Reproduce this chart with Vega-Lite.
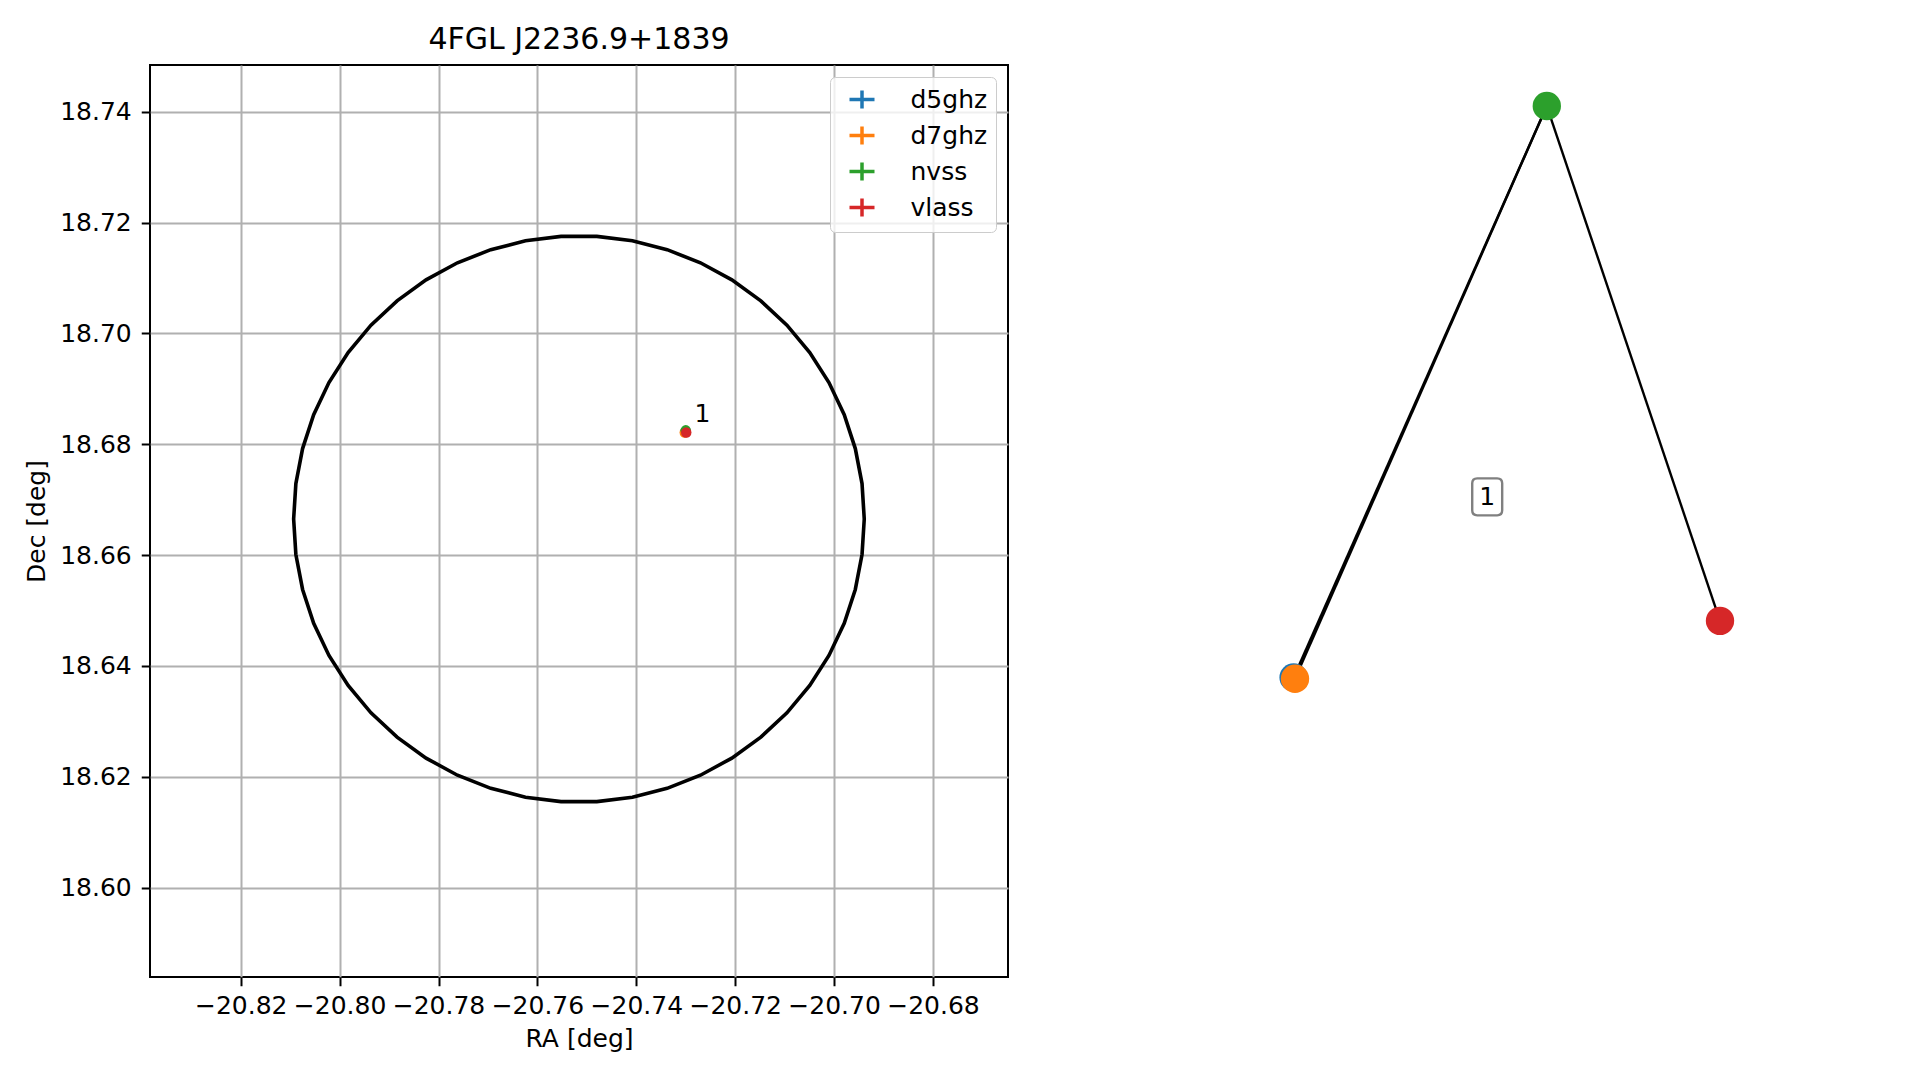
{
  "$schema": "https://vega.github.io/schema/vega-lite/v6.json",
  "padding": {"left": 23, "top": 24, "right": 5, "bottom": 5},
  "background": "white",
  "spacing": 91,
  "config": {
    "font": "DejaVu Sans",
    "legend": {"labelFont": "DejaVu Sans"}
  },
  "resolve": {"scale": {"color": "independent"}, "legend": {"color": "independent"}},
  "hconcat": [
    {
      "width": 858,
      "height": 912,
      "title": {"text": "4FGL J2236.9+1839", "fontSize": 30, "font": "DejaVu Sans", "fontWeight": "normal", "color": "black", "offset": 10},
      "view": {"stroke": "black", "strokeWidth": 2},
      "layer": [
        {
          "data": {"values": [
            {"k": 0, "ra": -20.6939, "dec": 18.6665},
            {"k": 1, "ra": -20.69435, "dec": 18.6729},
            {"k": 2, "ra": -20.69571, "dec": 18.67921},
            {"k": 3, "ra": -20.69795, "dec": 18.68531},
            {"k": 4, "ra": -20.70104, "dec": 18.69112},
            {"k": 5, "ra": -20.70492, "dec": 18.69654},
            {"k": 6, "ra": -20.70954, "dec": 18.70148},
            {"k": 7, "ra": -20.71482, "dec": 18.70587},
            {"k": 8, "ra": -20.72068, "dec": 18.70965},
            {"k": 9, "ra": -20.72703, "dec": 18.71274},
            {"k": 10, "ra": -20.73377, "dec": 18.7151},
            {"k": 11, "ra": -20.74079, "dec": 18.7167},
            {"k": 12, "ra": -20.74798, "dec": 18.7175},
            {"k": 13, "ra": -20.75522, "dec": 18.7175},
            {"k": 14, "ra": -20.76241, "dec": 18.7167},
            {"k": 15, "ra": -20.76943, "dec": 18.7151},
            {"k": 16, "ra": -20.77617, "dec": 18.71274},
            {"k": 17, "ra": -20.78252, "dec": 18.70965},
            {"k": 18, "ra": -20.78838, "dec": 18.70587},
            {"k": 19, "ra": -20.79366, "dec": 18.70148},
            {"k": 20, "ra": -20.79828, "dec": 18.69654},
            {"k": 21, "ra": -20.80216, "dec": 18.69112},
            {"k": 22, "ra": -20.80525, "dec": 18.68531},
            {"k": 23, "ra": -20.80749, "dec": 18.67921},
            {"k": 24, "ra": -20.80885, "dec": 18.6729},
            {"k": 25, "ra": -20.8093, "dec": 18.6665},
            {"k": 26, "ra": -20.80885, "dec": 18.6601},
            {"k": 27, "ra": -20.80749, "dec": 18.65379},
            {"k": 28, "ra": -20.80525, "dec": 18.64769},
            {"k": 29, "ra": -20.80216, "dec": 18.64188},
            {"k": 30, "ra": -20.79828, "dec": 18.63646},
            {"k": 31, "ra": -20.79366, "dec": 18.63152},
            {"k": 32, "ra": -20.78838, "dec": 18.62713},
            {"k": 33, "ra": -20.78252, "dec": 18.62335},
            {"k": 34, "ra": -20.77617, "dec": 18.62026},
            {"k": 35, "ra": -20.76943, "dec": 18.6179},
            {"k": 36, "ra": -20.76241, "dec": 18.6163},
            {"k": 37, "ra": -20.75522, "dec": 18.6155},
            {"k": 38, "ra": -20.74798, "dec": 18.6155},
            {"k": 39, "ra": -20.74079, "dec": 18.6163},
            {"k": 40, "ra": -20.73377, "dec": 18.6179},
            {"k": 41, "ra": -20.72703, "dec": 18.62026},
            {"k": 42, "ra": -20.72068, "dec": 18.62335},
            {"k": 43, "ra": -20.71482, "dec": 18.62713},
            {"k": 44, "ra": -20.70954, "dec": 18.63152},
            {"k": 45, "ra": -20.70492, "dec": 18.63646},
            {"k": 46, "ra": -20.70104, "dec": 18.64188},
            {"k": 47, "ra": -20.69795, "dec": 18.64769},
            {"k": 48, "ra": -20.69571, "dec": 18.65379},
            {"k": 49, "ra": -20.69435, "dec": 18.6601},
            {"k": 50, "ra": -20.6939, "dec": 18.6665}
          ]},
          "mark": {"type": "line", "color": "black", "strokeWidth": 3.6, "clip": true},
          "encoding": {
            "x": {"field": "ra", "type": "quantitative",
              "scale": {"domain": [-20.83835, -20.66483], "nice": false, "zero": false},
              "axis": {
                "title": "RA [deg]",
                "values": [-20.82, -20.80, -20.78, -20.76, -20.74, -20.72, -20.70, -20.68],
                "format": ".2f",
                "grid": true, "gridColor": "#b0b0b0", "gridWidth": 2,
                "domain": false,
                "tickColor": "black", "tickWidth": 2, "tickSize": 8.75,
                "labelPadding": 8, "labelFontSize": 25, "labelFont": "DejaVu Sans", "labelColor": "black",
                "labelFlush": false, "labelOverlap": false,
                "titleFontSize": 25, "titleFont": "DejaVu Sans", "titleFontWeight": "normal", "titleColor": "black", "titlePadding": 8
              }
            },
            "y": {"field": "dec", "type": "quantitative",
              "scale": {"domain": [18.58385, 18.74843], "nice": false, "zero": false},
              "axis": {
                "title": "Dec [deg]",
                "values": [18.60, 18.62, 18.64, 18.66, 18.68, 18.70, 18.72, 18.74],
                "format": ".2f",
                "grid": true, "gridColor": "#b0b0b0", "gridWidth": 2,
                "domain": false,
                "tickColor": "black", "tickWidth": 2, "tickSize": 8.75,
                "labelPadding": 10, "labelFontSize": 25, "labelFont": "DejaVu Sans", "labelColor": "black",
                "labelFlush": false, "labelOverlap": false,
                "minExtent": 91, "maxExtent": 91,
                "titleFontSize": 25, "titleFont": "DejaVu Sans", "titleFontWeight": "normal", "titleColor": "black", "titlePadding": 9.7
              }
            },
            "order": {"field": "k", "type": "quantitative"}
          }
        },
        {
          "data": {"name": "sources", "values": [
            {"survey": "d5ghz", "ra": -20.7301, "dec": 18.6822, "ra_lo": -20.7302, "ra_hi": -20.7300, "dec_lo": 18.6821, "dec_hi": 18.6823},
            {"survey": "d7ghz", "ra": -20.7302, "dec": 18.6821, "ra_lo": -20.7303, "ra_hi": -20.7301, "dec_lo": 18.6820, "dec_hi": 18.6822},
            {"survey": "nvss", "ra": -20.73, "dec": 18.6825, "ra_lo": -20.7302, "ra_hi": -20.7298, "dec_lo": 18.6823, "dec_hi": 18.6827},
            {"survey": "vlass", "ra": -20.7299, "dec": 18.6821, "ra_lo": -20.72995, "ra_hi": -20.72985, "dec_lo": 18.68205, "dec_hi": 18.68215}
          ]},
          "layer": [
            {
              "mark": {"type": "rule", "strokeWidth": 3.5},
              "encoding": {
                "x": {"field": "ra_lo", "type": "quantitative"},
                "x2": {"field": "ra_hi"},
                "y": {"field": "dec", "type": "quantitative"},
                "color": {"field": "survey", "type": "nominal",
                  "scale": {"domain": ["d5ghz", "d7ghz", "nvss", "vlass"], "range": ["#1f77b4", "#ff7f0e", "#2ca02c", "#d62728"]},
                  "legend": {
                    "title": null, "orient": "top-right", "offset": 12,
                    "symbolType": "M-1,0L1,0M0,-0.72L0,0.72",
                    "symbolSize": 625, "symbolStrokeWidth": 3.5, "symbolOffset": 9.5,
                    "labelFontSize": 25, "labelFont": "DejaVu Sans", "labelColor": "black", "labelOffset": 34,
                    "rowPadding": 3, "padding": 8,
                    "strokeColor": "#cccccc", "fillColor": "rgba(255,255,255,0.8)", "cornerRadius": 5
                  }
                }
              }
            },
            {
              "mark": {"type": "rule", "strokeWidth": 3.5},
              "encoding": {
                "x": {"field": "ra", "type": "quantitative"},
                "y": {"field": "dec_lo", "type": "quantitative"},
                "y2": {"field": "dec_hi"},
                "color": {"field": "survey", "type": "nominal", "legend": null}
              }
            },
            {
              "mark": {"type": "point", "filled": true, "opacity": 1, "size": 110},
              "encoding": {
                "x": {"field": "ra", "type": "quantitative"},
                "y": {"field": "dec", "type": "quantitative"},
                "color": {"field": "survey", "type": "nominal", "legend": null}
              }
            }
          ]
        },
        {
          "data": {"values": [{"ra": -20.7266, "dec": 18.6855, "label": "1"}]},
          "mark": {"type": "text", "fontSize": 25, "font": "DejaVu Sans", "color": "black", "align": "center", "baseline": "middle"},
          "encoding": {
            "x": {"field": "ra", "type": "quantitative"},
            "y": {"field": "dec", "type": "quantitative"},
            "text": {"field": "label"}
          }
        }
      ]
    },
    {
      "width": 800,
      "height": 912,
      "view": {"stroke": null},
      "layer": [
        {
          "data": {"values": [
            {"from": "nvss", "to": "d5ghz", "x": 0.117, "y": 0.910, "x2": -0.516, "y2": -0.343},
            {"from": "nvss", "to": "d7ghz", "x": 0.117, "y": 0.910, "x2": -0.5125, "y2": -0.346},
            {"from": "nvss", "to": "vlass", "x": 0.117, "y": 0.910, "x2": 0.55, "y2": -0.219}
          ]},
          "mark": {"type": "rule", "color": "black", "strokeWidth": 2.4},
          "encoding": {
            "x": {"field": "x", "type": "quantitative", "scale": {"domain": [-1, 1], "nice": false, "zero": false}, "axis": null},
            "y": {"field": "y", "type": "quantitative", "scale": {"domain": [-1, 1], "nice": false, "zero": false}, "axis": null},
            "x2": {"field": "x2"},
            "y2": {"field": "y2"}
          }
        },
        {
          "data": {"values": [
            {"node": "d5ghz", "x": -0.516, "y": -0.343},
            {"node": "d7ghz", "x": -0.5125, "y": -0.346},
            {"node": "nvss", "x": 0.117, "y": 0.910},
            {"node": "vlass", "x": 0.55, "y": -0.219}
          ]},
          "mark": {"type": "point", "filled": true, "opacity": 1, "size": 804},
          "encoding": {
            "x": {"field": "x", "type": "quantitative"},
            "y": {"field": "y", "type": "quantitative"},
            "color": {"field": "node", "type": "nominal",
              "scale": {"domain": ["d5ghz", "d7ghz", "nvss", "vlass"], "range": ["#1f77b4", "#ff7f0e", "#2ca02c", "#d62728"]},
              "legend": null}
          }
        },
        {
          "data": {"values": [{"x": -0.032, "y": 0.053, "label": "1"}]},
          "layer": [
            {
              "mark": {"type": "point", "filled": false, "fill": "white", "fillOpacity": 1, "stroke": "#808080", "strokeWidth": 2.4, "opacity": 1, "size": 1369,
                "shape": "M-0.54,-1L0.54,-1Q0.81,-1 0.81,-0.73L0.81,0.73Q0.81,1 0.54,1L-0.54,1Q-0.81,1 -0.81,0.73L-0.81,-0.73Q-0.81,-1 -0.54,-1Z"},
              "encoding": {
                "x": {"field": "x", "type": "quantitative"},
                "y": {"field": "y", "type": "quantitative"}
              }
            },
            {
              "mark": {"type": "text", "fontSize": 25, "font": "DejaVu Sans", "color": "black", "align": "center", "baseline": "middle"},
              "encoding": {
                "x": {"field": "x", "type": "quantitative"},
                "y": {"field": "y", "type": "quantitative"},
                "text": {"field": "label"}
              }
            }
          ]
        }
      ]
    }
  ]
}
